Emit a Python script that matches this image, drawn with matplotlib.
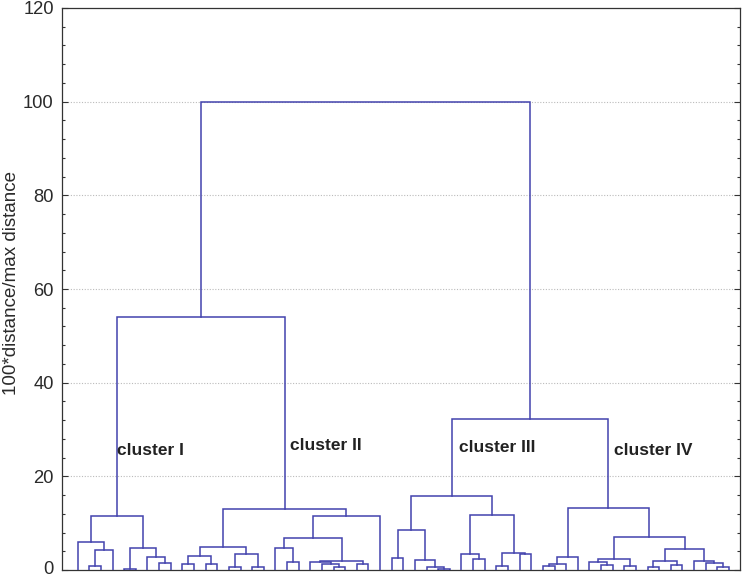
import matplotlib
matplotlib.use("Agg")
import matplotlib.pyplot as plt
import matplotlib.transforms as mtransforms
from matplotlib.ticker import MultipleLocator

# ---- data: merges written as (height, left, right); "L" marks a single object (leaf)
cluster_I = (11.6,
             (6.0, "L", (4.2, (0.85, "L", "L"), "L")),
             (4.7, (0.3, "L", "L"), (2.85, "L", (1.55, "L", "L"))))
cluster_II = (13.0,
              (4.85, (3.0, (1.3, "L", "L"), (1.3, "L", "L")),
                     (3.4, (0.7, "L", "L"), (0.7, "L", "L"))),
              (11.5, (6.9, (4.6, "L", (1.65, "L", "L")),
                           (2.0, (1.78, "L", (1.2, "L", (0.7, "L", "L"))),
                                 (1.2, "L", "L"))),
                     "L"))
cluster_III = (15.8,
               (8.5, (2.55, "L", "L"), (2.1, "L", (0.7, "L", (0.3, "L", "L")))),
               (11.7, (3.35, "L", (2.35, "L", "L")),
                      (3.55, (0.85, "L", "L"), (3.4, "L", "L"))))
cluster_IV = (13.3,
              (2.85, (1.2, (0.85, "L", "L"), "L"), "L"),
              (7.1, (2.35, (1.8, "L", (1.1, "L", "L")), (0.85, "L", "L")),
                    (4.4, (2.0, (0.6, "L", "L"), (1.0, "L", "L")),
                          (1.9, "L", (1.6, "L", (0.7, "L", "L"))))))
join_I_II = 54.0
join_III_IV = 32.3
root_height = 100.0

cluster_names = ["cluster I", "cluster II", "cluster III", "cluster IV"]
y_ticks = [0, 20, 40, 60, 80, 100, 120]
y_label = "100*distance/max distance"

tree = (root_height,
        (join_I_II, cluster_I, cluster_II),
        (join_III_IV, cluster_III, cluster_IV))

LINE = "#4343ad"

fig = plt.figure(figsize=(7.42, 5.78), dpi=100)
ax = fig.add_axes([62 / 742, 8 / 578, 678 / 742, 562 / 578])

counter = [0]


def draw(node):
    if node == "L":
        x = counter[0]
        counter[0] += 1
        return x, 0.0
    h, left, right = node
    xl, hl = draw(left)
    xr, hr = draw(right)
    ax.plot([xl, xl, xr, xr], [hl, h, h, hr], color=LINE, lw=1.1,
            solid_joinstyle="miter", zorder=3)
    return (xl + xr) / 2.0, h


draw(tree)

ax.set_xlim(-1.35, 56.95)
ax.set_ylim(0, 120)
ax.set_xticks([])
ax.set_yticks(y_ticks)
ax.yaxis.set_minor_locator(MultipleLocator(4))
ax.tick_params(axis="y", which="both", direction="in", left=True, right=True,
               colors="#333333", labelcolor="#2a2a2a", labelsize=13.2, pad=6)
ax.tick_params(axis="y", which="major", length=4, width=0.8)
ax.tick_params(axis="y", which="minor", length=2.5, width=0.8)
for s in ax.spines.values():
    s.set_color("#333333")
    s.set_linewidth(0.9)

for yv in y_ticks[1:-1]:
    ax.axhline(yv, color="#bbbbbb", lw=0.8, ls=(0, (1, 1.5)), zorder=1)

ax.set_ylabel(y_label, fontsize=13.5, color="#2a2a2a", family="Liberation Sans")
ax.yaxis.set_label_coords(-0.062, 0.51)
ticklabels = ax.get_yticklabels()
for lab in ticklabels:
    lab.set_family("Liberation Sans")
# keep the bottom "0" inside the figure edge
ticklabels[0].set_transform(ticklabels[0].get_transform() +
                            mtransforms.ScaledTranslation(0, 2 / 100, fig.dpi_scale_trans))

label_pos = [(3.38, 25.6), (18.25, 26.5), (32.8, 26.1), (46.1, 25.6)]
for name, (lx, ly) in zip(cluster_names, label_pos):
    ax.text(lx, ly, name, fontsize=12.5, fontweight="bold", color="#222222",
            family="Liberation Sans", ha="left", va="center", zorder=4)

fig.savefig("out.png", dpi=100)
